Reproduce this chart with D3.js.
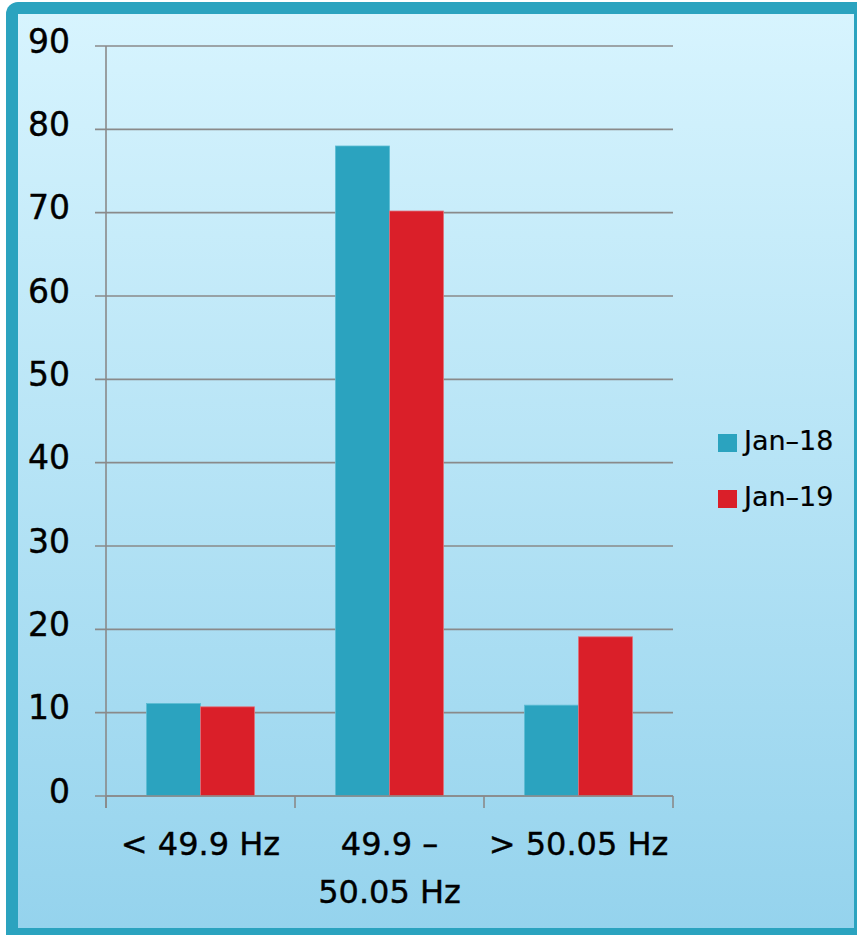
<!DOCTYPE html>
<html><head><meta charset="utf-8">
<script src="https://cdn.jsdelivr.net/npm/d3@7"></script>
<style>html,body{margin:0;padding:0;background:#fff;overflow:hidden}</style>
</head><body>
<svg id="c" width="857" height="935"></svg>
<script>
const categories = [["< 49.9 Hz"], ["49.9 –", "50.05 Hz"], ["> 50.05 Hz"]];
const seriesNames = ["Jan-18", "Jan-19"];
const jan18 = [11.1, 78.0, 10.9];
const jan19 = [10.7, 70.2, 19.1];
const yTicks = [0, 10, 20, 30, 40, 50, 60, 70, 80, 90];
const colors = ["#2ba3bf", "#da1f29"];

const svg = d3.select("#c");
const defs = svg.append("defs");
const g = defs.append("linearGradient").attr("id","bg").attr("x1",0).attr("y1",0).attr("x2",0).attr("y2",1);
g.append("stop").attr("offset","0%").attr("stop-color","#d7f4fe");
g.append("stop").attr("offset","100%").attr("stop-color","#95d3ed");

svg.append("rect").attr("x",6).attr("y",2).attr("width",870).attr("height",950).attr("rx",12).attr("fill","#2ba3bf");
svg.append("rect").attr("x",18).attr("y",14).attr("width",836).attr("height",914).attr("fill","url(#bg)");

const x0 = 106, x1 = 673, yTop = 46, yBot = 796;
const x = d3.scaleBand().domain(d3.range(categories.length)).range([x0, x1]).paddingInner(0).paddingOuter(0);
const y = d3.scaleLinear().domain([0, 90]).range([yBot, yTop]);
const inner = d3.scaleBand().domain(seriesNames).range([0, x.bandwidth()]).paddingInner(0).paddingOuter(0.75);

const font = "'DejaVu Sans', sans-serif";

// gridlines
svg.append("g").selectAll("line").data(yTicks).join("line")
  .attr("x1", 95).attr("x2", x1).attr("y1", d => y(d)).attr("y2", d => y(d))
  .attr("stroke", "#8a8a8a").attr("stroke-width", 1.6);

// y labels
svg.append("g").selectAll("text").data(yTicks).join("text")
  .attr("x", 70).attr("y", d => y(d) + 6.5)
  .attr("text-anchor", "end").attr("font-family", font).attr("font-size", 33).attr("fill", "#000")
  .attr("stroke", "#000").attr("stroke-width", 0.4)
  .text(d => d);

// bars
const series = [jan18, jan19];
series.forEach((vals, si) => {
  svg.append("g").selectAll("rect").data(vals).join("rect")
    .attr("x", (d, i) => x(i) + inner(seriesNames[si]))
    .attr("y", d => y(d))
    .attr("width", inner.bandwidth())
    .attr("height", d => yBot - y(d))
    .attr("fill", colors[si])
    .attr("stroke", si === 0 ? "#5cbcd3" : "#e0707a")
    .attr("stroke-width", 0.8);
});

// axes lines
svg.append("line").attr("x1", x0).attr("x2", x0).attr("y1", yTop).attr("y2", yBot + 12)
  .attr("stroke", "#8a8a8a").attr("stroke-width", 1.6);
svg.append("line").attr("x1", x0).attr("x2", x1).attr("y1", yBot).attr("y2", yBot)
  .attr("stroke", "#8a8a8a").attr("stroke-width", 1.6);
const tickXs = d3.range(categories.length + 1).map(i => i < categories.length ? x(i) : x1);
svg.append("g").selectAll("line").data(tickXs).join("line")
  .attr("x1", d => d).attr("x2", d => d).attr("y1", yBot).attr("y2", yBot + 12)
  .attr("stroke", "#8a8a8a").attr("stroke-width", 1.6);

// x labels
categories.forEach((lines, i) => {
  const t = svg.append("text").attr("text-anchor", "middle").attr("font-family", font)
    .attr("font-size", 32).attr("fill", "#000").attr("stroke", "#000").attr("stroke-width", 0.4);
  lines.forEach((ln, k) => {
    t.append("tspan").attr("x", x(i) + x.bandwidth() / 2).attr("y", 855 + k * 48).text(ln);
  });
});

// legend
seriesNames.forEach((name, i) => {
  const ly = 434 + i * 56;
  svg.append("rect").attr("x", 718).attr("y", ly).attr("width", 19).attr("height", 18).attr("fill", colors[i]);
  svg.append("text").attr("x", 744).attr("y", ly + 15.5).attr("font-family", font)
    .attr("font-size", 27).attr("fill", "#000").attr("stroke", "#000").attr("stroke-width", 0.2)
    .text(name.replace("-", "–"));
});
</script>
</body></html>
